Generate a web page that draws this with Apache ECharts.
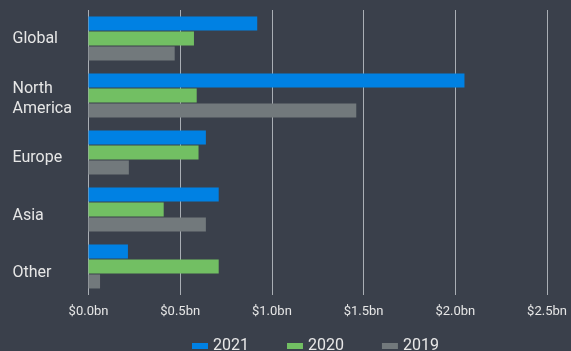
<!DOCTYPE html>
<html><head><meta charset="utf-8">
<script src="https://cdn.jsdelivr.net/npm/echarts@6/dist/echarts.min.js"></script>
<style>html,body{margin:0;padding:0;background:#3a404b;}#c{width:571px;height:351px;}</style>
</head><body><div id="c"></div>
<script>
const categories = ["Global", "North\nAmerica", "Europe", "Asia", "Other"];
const seriesNames = ["2021", "2020", "2019"];
const values2021 = [0.92, 2.05, 0.64, 0.71, 0.215];
const values2020 = [0.575, 0.59, 0.60, 0.41, 0.71];
const values2019 = [0.47, 1.46, 0.22, 0.64, 0.063];
const tickLabels = ["$0.0bn", "$0.5bn", "$1.0bn", "$1.5bn", "$2.0bn", "$2.5bn"];
const colors = ["#0081e3", "#72bf63", "#72797c"];

const chart = echarts.init(document.getElementById('c'), null, {renderer: 'canvas'});
const font = 'Roboto, "Noto Sans", sans-serif';
const dataSets = [values2021, values2020, values2019];
const labelPad = [0, 7, 11, 13, 12];
const rich = {};
labelPad.forEach((p, i) => {
  rich['s' + i] = {padding: [p, 0, 0, 0], color: '#e6e6e6', fontSize: 16, lineHeight: 20, fontFamily: font, align: 'left'};
});
chart.setOption({
  backgroundColor: '#3a404b',
  animation: false,
  textStyle: {fontFamily: font},
  legend: {
    top: 333, left: 187,
    itemWidth: 16, itemHeight: 6, itemGap: 38,
    icon: 'rect',
    textStyle: {color: '#e8e8e8', fontSize: 16, fontFamily: font},
    data: seriesNames
  },
  grid: {left: 88.5, top: 10, width: 458.5, height: 285, containLabel: false},
  xAxis: {
    type: 'value', min: 0, max: 2.5, interval: 0.5,
    axisLine: {show: false}, axisTick: {show: false},
    splitLine: {lineStyle: {color: '#a9aeb4', width: 1}},
    axisLabel: {color: '#e6e6e6', fontSize: 13, margin: 10, fontFamily: font,
      formatter: (v) => tickLabels[Math.round(v / 0.5)]}
  },
  yAxis: {
    type: 'category', data: categories, inverse: true,
    axisLine: {show: false}, axisTick: {show: false},
    axisLabel: {color: '#e6e6e6', fontSize: 16, align: 'left', margin: 76, lineHeight: 20, fontFamily: font,
      formatter: (v, i) => v.split('\n').map((ln, k) => `{s${i}|${ln}}`).join('\n'),
      rich: rich}
  },
  series: seriesNames.map((n, i) => ({
    name: n, type: 'bar', data: dataSets[i], barWidth: 14, barGap: '7%',
    itemStyle: {color: colors[i]}
  }))
});
</script></body></html>
